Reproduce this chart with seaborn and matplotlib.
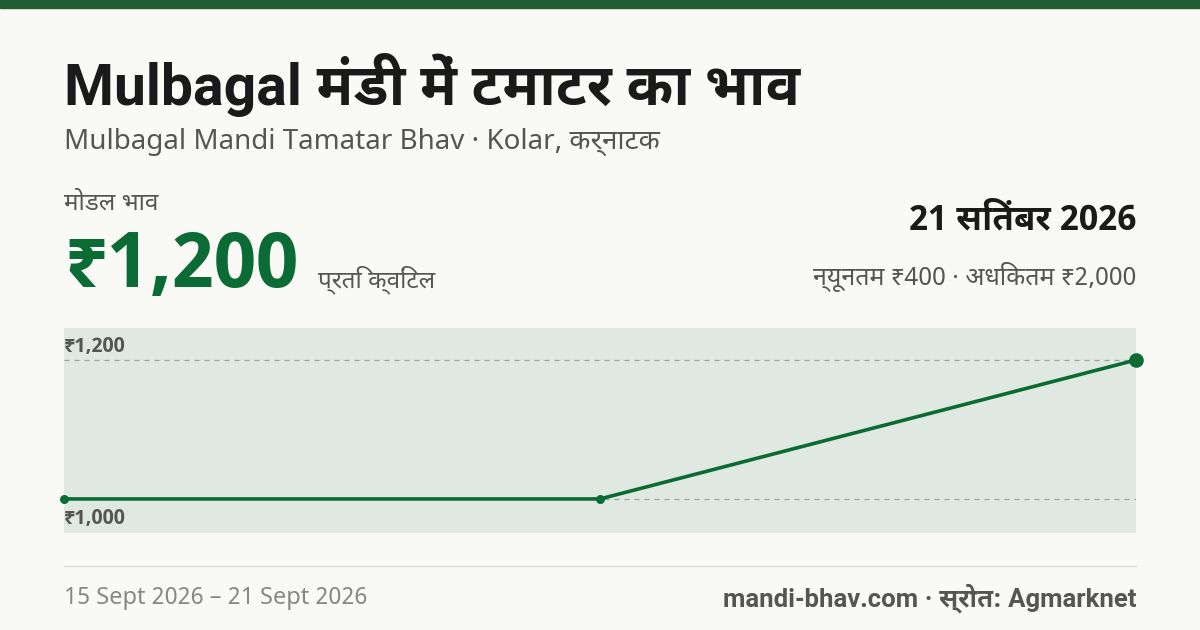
import matplotlib
matplotlib.use("Agg")
import matplotlib.pyplot as plt
import seaborn as sns
import pandas as pd

sns.set_theme(style="white")
plt.rcParams['font.family'] = ['Noto Sans Devanagari UI', 'Noto Sans', 'DejaVu Sans']

# data
days = [15, 18, 21]
prices = [1000, 1000, 1200]
ref_ticks = [1000, 1200]
tick_labels = ["₹1,000", "₹1,200"]

GREEN = "#0b6b35"
BG = "#f9f9f6"
BOLD = ['Noto Sans Devanagari UI', 'Roboto', 'DejaVu Sans']

df = pd.DataFrame({"day": days, "price": prices})

fig = plt.figure(figsize=(12, 6.3), dpi=100, facecolor=BG)
fig.patches.append(plt.Rectangle((0, 1 - 8/630), 1, 8/630, transform=fig.transFigure,
                                 color="#1f5e33", zorder=0))

ax = fig.add_axes([64/1200, 1 - 533/630, 1072/1200, 205/630])
ax.set_facecolor("#dfe9e1")
for s in ax.spines.values():
    s.set_visible(False)
sns.lineplot(data=df, x="day", y="price", color=GREEN, lw=2.6, ax=ax, zorder=3, clip_on=False)
ax.scatter(days[:-1], prices[:-1], s=30, color=GREEN, zorder=4, clip_on=False)
ax.scatter(days[-1:], prices[-1:], s=90, color=GREEN, zorder=4, clip_on=False)
for t in ref_ticks:
    ax.axhline(t, color="#9aa39c", lw=0.9, ls=(0, (4, 4)), zorder=1)
ax.set_xlim(days[0], days[-1])
ax.set_ylim(951, 1246)
ax.set_xticks([]); ax.set_yticks([])
ax.set_xlabel(""); ax.set_ylabel("")
ax.text(0.0, 1200 + 6, tick_labels[1], transform=ax.get_yaxis_transform(), fontsize=14.5,
        fontweight="bold", family=BOLD, color="#555555", va="bottom", ha="left", zorder=5)
ax.text(0.0, 1000 - 15, tick_labels[0], transform=ax.get_yaxis_transform(), fontsize=14.5,
        fontweight="bold", family=BOLD, color="#555555", va="top", ha="left", zorder=5)

def T(x, y, s, **kw):
    fig.text(x/1200, 1 - y/630, s, **kw)

T(64, 85, "Mulbagal मंडी में टमाटर का भाव", fontsize=41, fontweight="bold", family=BOLD, color="#1a1a1a", va="center")
T(64, 142, "Mulbagal Mandi Tamatar Bhav · Kolar, कर्नाटक", fontsize=20, color="#555555", va="center")
T(64, 204, "मोडल भाव", fontsize=17.5, color="#555555", va="center")
T(64, 266, "₹1,200", fontsize=55, fontweight="bold", family=BOLD, color=GREEN, va="center")
T(318, 280, "प्रति क्विंटल", fontsize=17.5, color="#555555", va="center")
T(1136, 220, "21 सितंबर 2026", fontsize=25, fontweight="bold", family=BOLD, color="#1a1a1a", va="center", ha="right")
T(1136, 277, "न्यूनतम ₹400 · अधिकतम ₹2,000", fontsize=18, color="#555555", va="center", ha="right")
fig.lines.append(plt.Line2D([64/1200, 1136/1200], [1 - 566/630]*2, transform=fig.transFigure,
                            color="#dddddd", lw=1))
T(64, 598, "15 Sept 2026 – 21 Sept 2026", fontsize=17, color="#888888", va="center")
T(1136, 598, "mandi-bhav.com · स्रोत: Agmarknet", fontsize=18.5, fontweight="bold", family=BOLD,
  color="#555555", va="center", ha="right")

fig.savefig("out.png", dpi=100, facecolor=BG)
